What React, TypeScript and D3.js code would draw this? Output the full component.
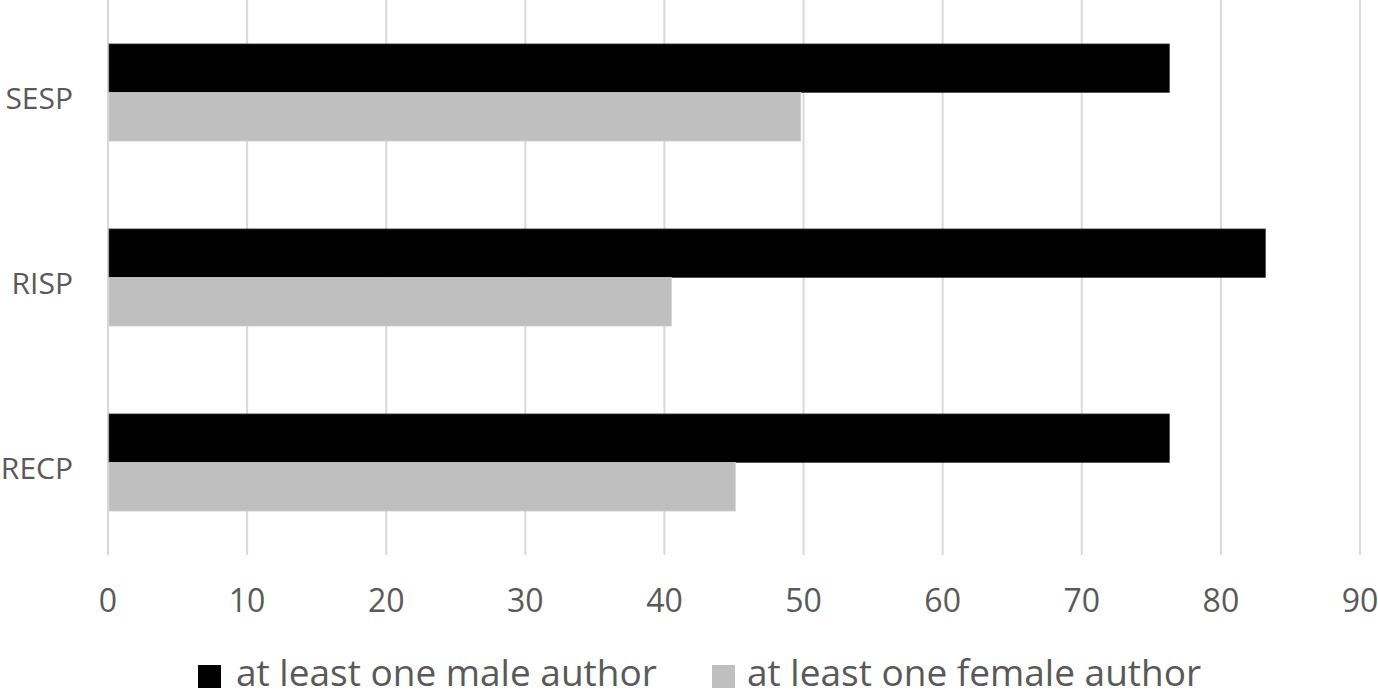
import React, { useRef, useEffect } from 'react';
import * as d3 from 'd3';

const categories = ['SESP', 'RISP', 'RECP'];
const seriesNames = ['at least one male author', 'at least one female author'];
const maleValues = [76.3, 83.2, 76.3];
const femaleValues = [49.8, 40.5, 45.1];
const xTicks = [0, 10, 20, 30, 40, 50, 60, 70, 80, 90];
const seriesColors = ['#000000', '#bfbfbf'];

const WIDTH = 1378;
const HEIGHT = 696;
const FONT = "'Open Sans', 'DejaVu Sans', sans-serif";

const App: React.FC = () => {
    const ref = useRef<SVGSVGElement | null>(null);

    useEffect(() => {
        const svg = d3.select(ref.current);
        svg.selectAll('*').remove();

        const x = d3.scaleLinear().domain([0, 90]).range([108, 1360]);
        const y = d3.scaleBand<string>()
            .domain(categories)
            .range([0, 555])
            .paddingInner(0.475)
            .paddingOuter(0.2375);
        const sub = d3.scaleBand<string>()
            .domain(seriesNames)
            .range([0, y.bandwidth()]);

        // gridlines
        svg.append('g')
            .selectAll('line')
            .data(xTicks)
            .enter()
            .append('line')
            .attr('x1', (d) => x(d))
            .attr('x2', (d) => x(d))
            .attr('y1', 0)
            .attr('y2', 555)
            .attr('stroke', '#d9d9d9')
            .attr('stroke-width', 2);

        const rows = categories.map((c, i) => ({
            cat: c,
            vals: [maleValues[i], femaleValues[i]],
        }));

        const groups = svg.append('g')
            .selectAll('g')
            .data(rows)
            .enter()
            .append('g')
            .attr('transform', (d) => `translate(0,${y(d.cat)})`);

        groups.selectAll('rect')
            .data((d) => d.vals.map((v, j) => ({ v, j })))
            .enter()
            .append('rect')
            .attr('x', x(0) + 1)
            .attr('y', (d) => sub(seriesNames[d.j]) as number)
            .attr('width', (d) => x(d.v) - x(0) - 1)
            .attr('height', sub.bandwidth())
            .attr('fill', (d) => seriesColors[d.j])
            .attr('stroke', (d) => (d.j === 0 ? '#404040' : '#d0d0d0'))
            .attr('stroke-width', 0.7);

        // category labels
        svg.append('g')
            .selectAll('text')
            .data(categories)
            .enter()
            .append('text')
            .attr('x', 73)
            .attr('y', (d) => (y(d) as number) + y.bandwidth() / 2 + 16)
            .attr('text-anchor', 'end')
            .attr('fill', '#595959')
            .style('font-family', FONT)
            .style('font-size', '30px')
            .text((d) => d);

        // x tick labels
        svg.append('g')
            .selectAll('text')
            .data(xTicks)
            .enter()
            .append('text')
            .attr('x', (d) => x(d))
            .attr('y', 612)
            .attr('text-anchor', 'middle')
            .attr('fill', '#595959')
            .style('font-family', FONT)
            .style('font-size', '32px')
            .text((d) => String(d));

        // legend
        const legendBoxX = [198, 712];
        const legendTextX = [236, 747];
        const legend = svg.append('g')
            .selectAll('g')
            .data(seriesNames)
            .enter()
            .append('g');
        legend.append('rect')
            .attr('x', (_d, i) => legendBoxX[i])
            .attr('y', 665)
            .attr('width', 23)
            .attr('height', 23)
            .attr('fill', (_d, i) => seriesColors[i]);
        legend.append('text')
            .attr('x', (_d, i) => legendTextX[i])
            .attr('y', 686)
            .attr('fill', '#595959')
            .style('font-family', FONT)
            .style('font-size', '37px')
            .text((d) => d);
    }, []);

    return (
        <div style={{ position: 'fixed', left: 0, top: 0 }}>
            <svg ref={ref} width={WIDTH} height={HEIGHT} style={{ display: 'block', background: '#fff' }} />
        </div>
    );
};

export default App;
